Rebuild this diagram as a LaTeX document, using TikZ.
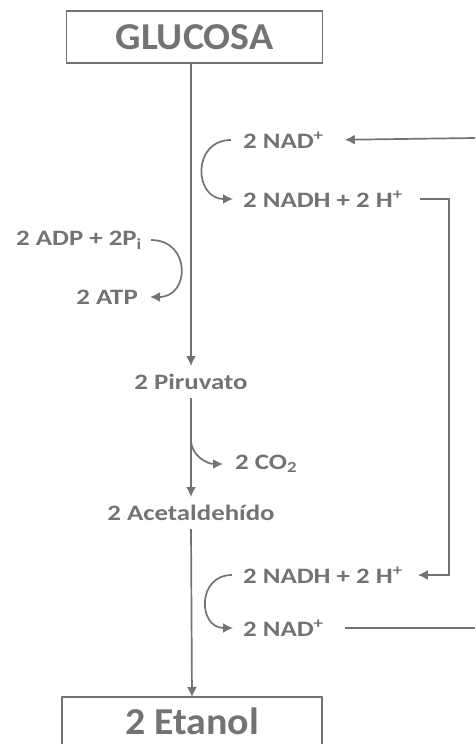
\documentclass[tikz,border=0pt]{standalone}
\usepackage{fontspec}
\setmainfont{Carlito}
\newfontfamily\chica{Carlito}[FakeStretch=1.22]
\newfontfamily\grande{Carlito}[FakeStretch=1.05]
\usepackage{xcolor}
\usepackage{tikz}
\usetikzlibrary{arrows.meta,calc}

\definecolor{gris}{HTML}{737373}

\begin{document}
\begin{tikzpicture}[x=1pt, y=-1pt,
    caja/.style={draw=gris, line width=1.8pt, inner sep=0pt, outer sep=0pt, font=\grande\bfseries\fontsize{38}{40}\selectfont, text=gris},
    paso/.style={font=\chica\bfseries\fontsize{22}{24}\selectfont, text=gris, inner xsep=3pt, inner ysep=8pt},
    etiq/.style={font=\chica\bfseries\fontsize{22}{24}\selectfont, text=gris, inner sep=3pt},
    flecha/.style={draw=gris, line width=1.7pt, -{Latex[length=10pt, width=10pt]}},
    linea/.style={draw=gris, line width=1.7pt}
]
\useasboundingbox (0,0) rectangle (475,744);

% Cajas
\node[caja, minimum width=256pt, minimum height=52pt] (glucosa) at (194.5,37) {GLUCOSA};
\node[caja, minimum width=260pt, minimum height=90pt] (etanol) at (192,742) {};
\node[font=\grande\bfseries\fontsize{38}{40}\selectfont, text=gris] (etanoltxt) at (192,721) {2 Etanol};

% Pasos centrales
\node[paso] (piruvato) at (191,382) {2 Piruvato};
\node[paso] (acetal) at (191,513) {2 Acetaldehído};

% Cofactores
\node[etiq, anchor=west] (nad1) at (240,140) {2 NAD\textsuperscript{+}};
\node[etiq, anchor=west] (nadh1) at (240,199) {2 NADH + 2 H\textsuperscript{+}};
\node[etiq, anchor=east] (adp) at (145,240) {2 ADP + 2P\textsubscript{i}};
\node[etiq, anchor=east] (atp) at (141,297) {2 ATP};
\node[etiq, anchor=west] (co2) at (232,464) {2 CO\textsubscript{2}};
\node[etiq, anchor=west] (nadh2) at (240,575) {2 NADH + 2 H\textsuperscript{+}};
\node[etiq, anchor=west] (nad2) at (240,628) {2 NAD\textsuperscript{+}};

\coordinate (rama) at (191,440);
\coordinate (der) at (449,0);
\coordinate (entrada) at (475,138);
\coordinate (salida) at (475,628);

% Flujo principal
\draw[flecha] (glucosa.south -| piruvato.north) -- (piruvato.north);
\draw[flecha] (piruvato.south) -- (acetal.north);
\draw[flecha] (acetal.south) -- (etanol.north);

% Ramas curvas
\draw[flecha] ([xshift=-9pt]nad1.west) to[out=180, in=180, looseness=1.7] ([xshift=-7pt]nadh1.west);
\draw[flecha] ([xshift=-8pt]nadh2.west) to[out=180, in=180, looseness=1.7] ([xshift=-7pt]nad2.west);
\draw[flecha] ([xshift=6pt]adp.east) to[out=0, in=0, looseness=1.8] ([xshift=9pt]atp.east);
\draw[flecha] (rama) to[out=-90, in=180] ([xshift=-9pt]co2.west);

% Ciclo NAD
\draw[flecha, shorten >=18pt] (entrada) -- (nad1.east);
\draw[flecha, shorten <=14pt, shorten >=12pt] (nadh1.east) -| (der |- nadh2.east) -- (nadh2.east);
\draw[linea, shorten <=18pt] (nad2.east) -- (salida);
\end{tikzpicture}
\end{document}
